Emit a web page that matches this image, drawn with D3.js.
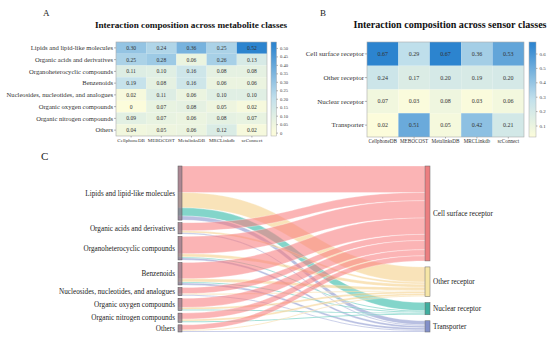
<!DOCTYPE html>
<html>
<head>
<meta charset="utf-8">
<script src="https://cdn.jsdelivr.net/npm/d3@7"></script>
<style>
  body { margin: 0; background: #fff; }
  svg { font-family: "Liberation Serif", "Times New Roman", serif; }
</style>
</head>
<body>
<svg id="fig" width="550" height="337"></svg>
<script>
const methods = ["CellphoneDB", "MEBOCOST", "MetalinksDB", "MRCLinkdb", "scConnect"];

const metaboliteClasses = [
  "Lipids and lipid-like molecules",
  "Organic acids and derivatives",
  "Organoheterocyclic compounds",
  "Benzenoids",
  "Nucleosides, nucleotides, and analogues",
  "Organic oxygen compounds",
  "Organic nitrogen compounds",
  "Others"
];
// rows = metabolite class, columns = methods
const metaboliteShare = [
  [0.30, 0.24, 0.36, 0.25, 0.52],
  [0.25, 0.28, 0.06, 0.26, 0.13],
  [0.11, 0.10, 0.16, 0.08, 0.08],
  [0.19, 0.08, 0.16, 0.06, 0.06],
  [0.02, 0.11, 0.06, 0.10, 0.10],
  [0.00, 0.07, 0.08, 0.05, 0.02],
  [0.09, 0.07, 0.06, 0.08, 0.07],
  [0.04, 0.05, 0.06, 0.12, 0.02]
];

const sensorClasses = ["Cell surface receptor", "Other receptor", "Nuclear receptor", "Transporter"];
const sensorShare = [
  [0.67, 0.29, 0.67, 0.36, 0.53],
  [0.24, 0.17, 0.20, 0.19, 0.20],
  [0.07, 0.03, 0.08, 0.03, 0.06],
  [0.02, 0.51, 0.05, 0.42, 0.21]
];

const ticksA = [0, 0.05, 0.10, 0.15, 0.20, 0.25, 0.30, 0.35, 0.40, 0.45, 0.50];
const ticksB = [0.1, 0.2, 0.3, 0.4, 0.5, 0.6];

// sankey flows: rows = metabolite class, columns = sensor class (estimated counts)
const flows = [
  [26, 15, 8, 4],
  [8, 2, 0, 1],
  [17, 3, 1, 2],
  [16, 3, 1, 2],
  [6, 1, 0, 1],
  [9, 2, 1, 0],
  [6, 2, 1, 0],
  [5, 1, 0, 1]
];

const sensorColors = ["#ec7e80", "#f6e6a6", "#3fae9f", "#8390c9"];
const linkColors = ["#f87d80", "#f5cf86", "#2ab7a3", "#8491cb"];

const svg = d3.select("#fig");
const fmt2 = d => d === 0 ? "0" : d.toFixed(2);

function heatmap(g, o) {
  const x = d3.scaleBand().domain(o.cols).range([o.x0, o.x1]);
  const y = d3.scaleBand().domain(o.rows).range([o.y0, o.y1]);
  const cells = [];
  o.values.forEach((row, i) => row.forEach((v, j) => cells.push({ r: o.rows[i], c: o.cols[j], v })));

  g.selectAll("rect.cell")
    .data(cells)
    .join("rect")
    .attr("class", "cell")
    .attr("x", d => x(d.c))
    .attr("y", d => y(d.r))
    .attr("width", x.bandwidth())
    .attr("height", y.bandwidth())
    .attr("fill", d => o.color(d.v));

  g.selectAll("text.val")
    .data(cells)
    .join("text")
    .attr("class", "val")
    .attr("x", d => x(d.c) + x.bandwidth() / 2)
    .attr("y", d => y(d.r) + y.bandwidth() / 2)
    .attr("dy", "0.35em")
    .attr("text-anchor", "middle")
    .attr("font-size", o.cellFont)
    .attr("fill", "#333")
    .text(d => o.fmt(d.v));

  g.append("rect")
    .attr("x", o.x0).attr("y", o.y0)
    .attr("width", o.x1 - o.x0).attr("height", o.y1 - o.y0)
    .attr("fill", "none").attr("stroke", "#aaa").attr("stroke-width", 0.6);

  const ay = g.append("g")
    .attr("transform", `translate(${o.x0},0)`)
    .call(d3.axisLeft(y).tickSize(2).tickPadding(1));
  ay.select(".domain").remove();
  ay.selectAll("line").attr("stroke", "#666").attr("stroke-width", 0.5);
  ay.selectAll("text").attr("font-size", o.rowFont).attr("fill", "#333")
    .attr("font-family", "Liberation Serif");

  const ax = g.append("g")
    .attr("transform", `translate(0,${o.y1})`)
    .call(d3.axisBottom(x).tickSize(1.5).tickPadding(1));
  ax.select(".domain").remove();
  ax.selectAll("line").attr("stroke", "#666").attr("stroke-width", 0.5);
  ax.selectAll("text").attr("font-size", o.colFont).attr("fill", "#333")
    .attr("font-family", "Liberation Serif");
}

function colorbar(g, o) {
  const id = "grad" + o.id;
  const grad = svg.append("defs").append("linearGradient")
    .attr("id", id).attr("x1", 0).attr("x2", 0).attr("y1", 1).attr("y2", 0);
  const [lo, hi] = o.domain;
  d3.range(0, 1.0001, 0.05).forEach(t => {
    grad.append("stop").attr("offset", t).attr("stop-color", o.color(lo + t * (hi - lo)));
  });
  g.append("rect")
    .attr("x", o.x).attr("y", o.y0)
    .attr("width", o.w).attr("height", o.y1 - o.y0)
    .attr("fill", `url(#${id})`)
    .attr("stroke", "#aaa").attr("stroke-width", 0.5);
  const s = d3.scaleLinear().domain(o.domain).range([o.y1, o.y0]);
  const a = g.append("g")
    .attr("transform", `translate(${o.x + o.w},0)`)
    .call(d3.axisRight(s).tickValues(o.ticks).tickFormat(o.fmt).tickSize(1.5).tickPadding(2));
  a.select(".domain").remove();
  a.selectAll("line").attr("stroke", "#666").attr("stroke-width", 0.5);
  a.selectAll("text").attr("font-size", o.font).attr("fill", "#444")
    .attr("font-family", "Liberation Serif");
}

// ---- panel A
const colorA = d3.scaleLinear().domain([0, 0.2, 0.52])
  .range(["#fcfcdb", "#c3e1ec", "#2c84cf"]).clamp(true);
const gA = svg.append("g");
heatmap(gA, {
  rows: metaboliteClasses, cols: methods, values: metaboliteShare,
  x0: 116, x1: 267, y0: 42, y1: 136, color: colorA, fmt: fmt2,
  cellFont: 5.6, rowFont: 6.6, colFont: 5
});
colorbar(gA, {
  id: "A", x: 271, w: 5.5, y0: 42, y1: 136, domain: [-0.02, 0.535],
  color: colorA, ticks: ticksA, fmt: fmt2, font: 4.6
});

// ---- panel B
const colorB = d3.scaleLinear().domain([0.02, 0.28, 0.67])
  .range(["#fcfcdb", "#c3e1ec", "#2c84cf"]).clamp(true);
const gB = svg.append("g");
heatmap(gB, {
  rows: sensorClasses, cols: methods, values: sensorShare,
  x0: 367, x1: 524, y0: 42, y1: 137, color: colorB, fmt: d => d.toFixed(2),
  cellFont: 6, rowFont: 7, colFont: 5.2
});
colorbar(gB, {
  id: "B", x: 529, w: 7, y0: 42, y1: 137, domain: [0.02, 0.68],
  color: colorB, ticks: ticksB, fmt: d3.format(".1f"), font: 5
});

// ---- titles and panel letters
svg.append("text").attr("x", 191).attr("y", 28).attr("text-anchor", "middle")
  .attr("font-weight", "bold").attr("font-size", 9.2).attr("fill", "#111")
  .text("Interaction composition across metabolite classes");
svg.append("text").attr("x", 450).attr("y", 28).attr("text-anchor", "middle")
  .attr("font-weight", "bold").attr("font-size", 10.1).attr("fill", "#111")
  .text("Interaction composition across sensor classes");
[["A", 43, 16, 9], ["B", 320, 16, 9], ["C", 41, 160, 11]].forEach(([t, x, y, s]) => {
  svg.append("text").attr("x", x).attr("y", y).attr("font-size", s).attr("fill", "#222").text(t);
});

// ---- panel C: sankey (manual layout)
const gC = svg.append("g");
const leftTotals = flows.map(r => d3.sum(r));
const rightTotals = sensorClasses.map((_, j) => d3.sum(flows, r => r[j]));
const total = d3.sum(leftTotals);
const sankeyTop = 166, sankeyBottom = 332;
const ky = d3.scaleLinear().domain([0, total]).range([0, 148]);
const xL = [178, 182], xR = [425, 430];

function stack(totals) {
  const pad = (sankeyBottom - sankeyTop - ky(total)) / (totals.length - 1);
  let y = sankeyTop;
  return totals.map(v => {
    const n = { y0: y, y1: y + ky(v) };
    y = n.y1 + pad;
    return n;
  });
}
const leftNodes = stack(leftTotals);
const rightNodes = stack(rightTotals);

const links = [];
flows.forEach((row, i) => {
  let sOff = leftNodes[i].y0;
  row.forEach((v, j) => {
    if (!v) return;
    const h = ky(v);
    links.push({ i, j, sy: sOff, ty: 0, h });
    sOff += h;
  });
});
// target offsets ordered by source
rightNodes.forEach((n, j) => {
  let off = n.y0;
  links.filter(l => l.j === j).sort((a, b) => a.i - b.i).forEach(l => { l.ty = off; off += l.h; });
});

function ribbon(l) {
  const x0 = xL[0], x1 = xR[0], xa = xL[1], xm = (xa + x1) / 2;
  const p = d3.path();
  p.moveTo(x0, l.sy);
  p.lineTo(xa, l.sy);
  p.bezierCurveTo(xm, l.sy, xm, l.ty, x1, l.ty);
  p.lineTo(x1, l.ty + l.h);
  p.bezierCurveTo(xm, l.ty + l.h, xm, l.sy + l.h, xa, l.sy + l.h);
  p.lineTo(x0, l.sy + l.h);
  p.closePath();
  return p.toString();
}

gC.append("g")
  .selectAll("path")
  .data(links)
  .join("path")
  .attr("d", ribbon)
  .attr("fill", d => linkColors[d.j])
  .attr("fill-opacity", 0.58)
  .attr("stroke", "#fff")
  .attr("stroke-width", 0.5)
  .attr("stroke-opacity", 0.6);

gC.append("g")
  .selectAll("rect")
  .data(leftNodes)
  .join("rect")
  .attr("x", xL[0]).attr("y", d => d.y0)
  .attr("width", xL[1] - xL[0]).attr("height", d => d.y1 - d.y0)
  .attr("fill", "#8a7484").attr("fill-opacity", 0.7)
  .attr("stroke", "#555").attr("stroke-width", 0.5);

gC.append("g")
  .selectAll("rect")
  .data(rightNodes)
  .join("rect")
  .attr("x", xR[0]).attr("y", d => d.y0)
  .attr("width", xR[1] - xR[0]).attr("height", d => d.y1 - d.y0)
  .attr("fill", (d, j) => sensorColors[j]).attr("stroke", "#666").attr("stroke-width", 0.5);

gC.append("g")
  .selectAll("text")
  .data(leftNodes)
  .join("text")
  .attr("x", xL[0] - 3)
  .attr("y", d => (d.y0 + d.y1) / 2)
  .attr("dy", "0.35em")
  .attr("text-anchor", "end")
  .attr("font-size", 7.2)
  .attr("fill", "#222")
  .text((d, i) => metaboliteClasses[i]);

gC.append("g")
  .selectAll("text")
  .data(rightNodes)
  .join("text")
  .attr("x", xR[1] + 3)
  .attr("y", d => (d.y0 + d.y1) / 2)
  .attr("dy", "0.35em")
  .attr("font-size", 7.2)
  .attr("fill", "#222")
  .text((d, j) => sensorClasses[j]);
</script>
</body>
</html>
